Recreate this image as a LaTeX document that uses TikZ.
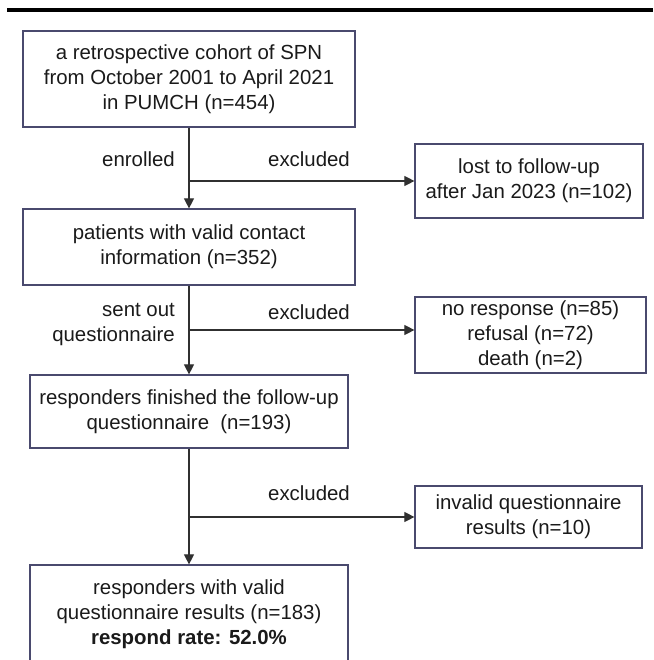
\documentclass[tikz,border=0pt]{standalone}
\usepackage{fontspec}
\setmainfont{Liberation Sans}
\usetikzlibrary{arrows.meta}
\definecolor{boxc}{HTML}{4A4A6E}
\definecolor{linec}{HTML}{303030}
\definecolor{txtc}{HTML}{1A1A1A}
\begin{document}
\begin{tikzpicture}[x=1pt,y=-1pt,
  font=\fontsize{20.4}{25}\selectfont,
  box/.style={draw=boxc, line width=1.2pt, inner sep=0pt, align=center, text=txtc,
    execute at begin node={\rule{0pt}{26pt}}},
  conn/.style={draw=linec, line width=1.1pt},
  arr/.style={conn, -{Triangle[length=10pt,width=10pt]}},
  lbl/.style={text=txtc, inner sep=0pt}]
\useasboundingbox (0,0) rectangle (653,660);
\clip (0,0) rectangle (653,660);
\draw[line width=3.5pt, black] (7,10) -- (653,10);
% boxes
\node[box, minimum width=332pt, minimum height=96pt] (b1) at (189,79)
  {a retrospective cohort of SPN\\from October 2001 to April 2021\\in PUMCH (n=454)};
\node[box, minimum width=228pt, minimum height=74pt] (r1) at (529,181)
  {lost to follow-up\\after Jan 2023 (n=102)};
\node[box, minimum width=332pt, minimum height=76pt] (b2) at (189,247)
  {patients with valid contact\\information (n=352)};
\node[box, minimum width=231pt, minimum height=76pt] (r2) at (530.5,335)
  {no response (n=85)\\refusal (n=72)\\death (n=2)};
\node[box, minimum width=318pt, minimum height=73pt] (b3) at (189,411.5)
  {responders finished the follow-up\\questionnaire\ \ (n=193)};
\node[box, minimum width=227pt, minimum height=62pt] (r3) at (528.5,517)
  {invalid questionnaire\\results (n=10)};
\node[box, minimum width=318pt, minimum height=99pt] (b4) at (189,614.5)
  {responders with valid\\questionnaire results (n=183)\\\textbf{respond rate: 52.0\%}};
% connectors
\draw[arr] (b1.south) -- (b2.north);
\coordinate (j1) at (b1.south |- r1.west);
\draw[arr] (j1) -- (r1.west);
\draw[arr] (b2.south) -- (b3.north);
\coordinate (j2) at (189,330);
\draw[arr] (j2) -- (j2 -| r2.west);
\draw[arr] (b3.south) -- (b4.north);
\coordinate (j3) at (b3.south |- r3.west);
\draw[arr] (j3) -- (r3.west);
% labels
\node[lbl, anchor=east] (l1) at (175,159) {enrolled};
\node[lbl] (e1) at (309,159) {excluded};
\node[lbl, anchor=east, align=right] (l2) at (175,324.5) {sent out\\questionnaire};
\node[lbl] (e2) at (309,312) {excluded};
\node[lbl] (e3) at (309,493) {excluded};
\end{tikzpicture}
\end{document}
